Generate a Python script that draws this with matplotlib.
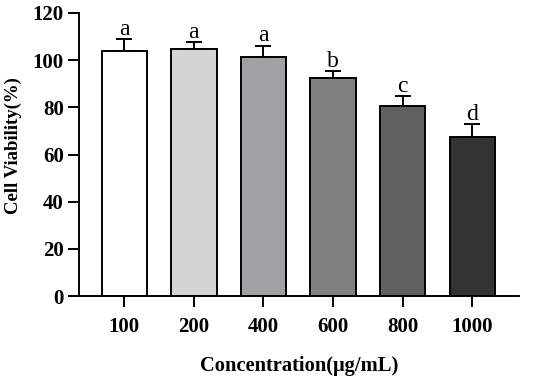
import matplotlib.pyplot as plt
import numpy as np

plt.rcParams['font.family'] = ['Liberation Serif', 'DejaVu Serif']

# data
conc = ['100', '200', '400', '600', '800', '1000']
viability = [103.9, 104.6, 101.4, 92.6, 80.6, 67.4]
sd = [5.0, 3.1, 4.8, 2.7, 4.2, 5.5]
letters = ['a', 'a', 'a', 'b', 'c', 'd']
colors = ['#ffffff', '#d4d4d4', '#a1a1a4', '#818181', '#606060', '#333333']

fig = plt.figure(figsize=(5.5, 3.82), dpi=100)
ax = fig.add_axes([79/550, 1-296/382, 440/550, 283/382])

x = np.arange(len(conc))
ax.bar(x, viability, width=0.65, color=colors, edgecolor='black', linewidth=1.4, zorder=2)
ax.errorbar(x, viability, yerr=[np.zeros(len(sd)), sd], fmt='none', ecolor='black',
            elinewidth=1.4, capsize=5.5, capthick=1.4, zorder=1)

for xi, v, s, t in zip(x, viability, sd, letters):
    ax.text(xi, v + s - 0.3, t, ha='center', va='bottom', fontsize=17)

ax.set_xlim(-0.65, 5.67)
ax.set_ylim(0, 120)
ax.set_yticks(np.arange(0, 121, 20))
ax.set_xticks(x)
ax.set_xticklabels(conc)

for s in ['top', 'right']:
    ax.spines[s].set_visible(False)
for s in ['left', 'bottom']:
    ax.spines[s].set_linewidth(1.4)

ax.tick_params(axis='both', width=1.4, length=8, labelsize=15)
ax.tick_params(axis='x', pad=7)
ax.tick_params(axis='y', pad=3)
for lab in ax.get_xticklabels() + ax.get_yticklabels():
    lab.set_fontweight('bold')

ax.set_ylabel('Cell Viability(%)', fontsize=13.5, fontweight='bold')
ax.yaxis.set_label_coords(-0.13, 0.53)
ax.set_xlabel('Concentration(μg/mL)', fontsize=14.8, fontweight='bold', labelpad=14)

fig.savefig('out.png', dpi=100)
